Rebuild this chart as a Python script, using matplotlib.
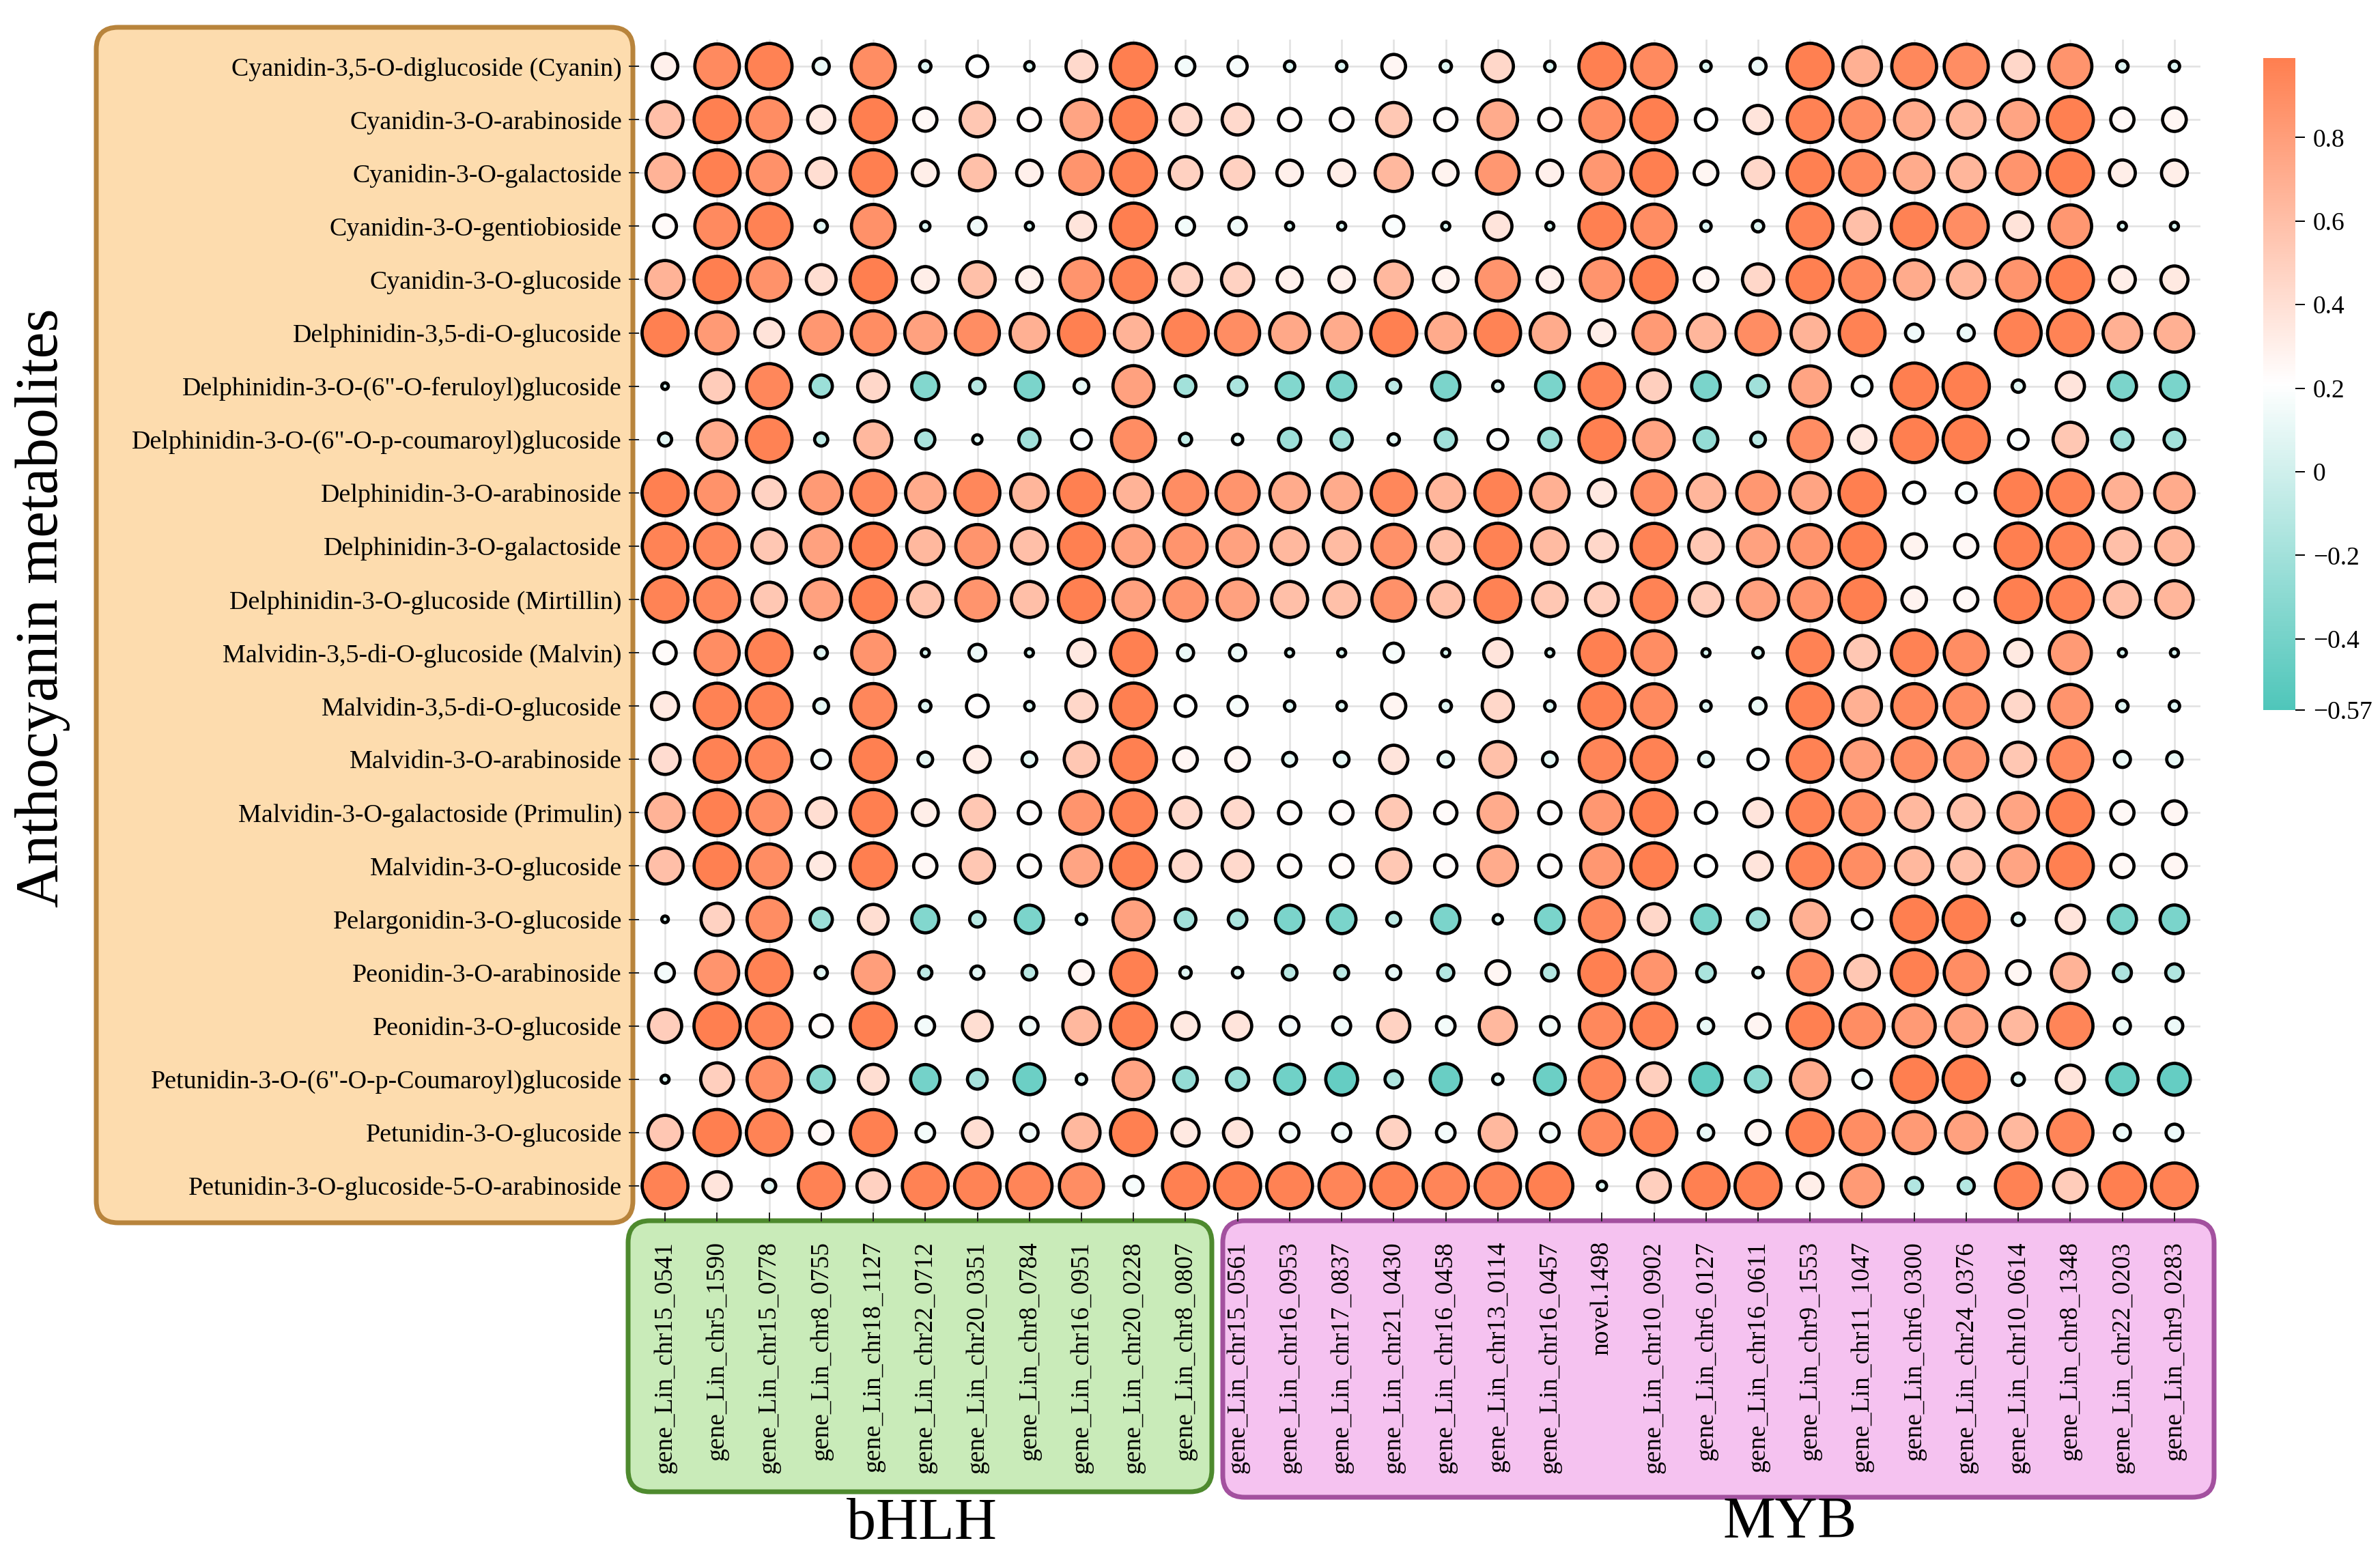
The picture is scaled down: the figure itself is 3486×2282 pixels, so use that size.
import matplotlib
matplotlib.use('Agg')
import matplotlib.pyplot as plt
import numpy as np
from matplotlib.colors import LinearSegmentedColormap, Normalize
from matplotlib.patches import FancyBboxPatch
import matplotlib.cm as cm

plt.rcParams['font.family'] = ['Liberation Serif', 'DejaVu Serif']

# ---------------- data ----------------
metabolites = [
    "Cyanidin-3,5-O-diglucoside (Cyanin)",
    "Cyanidin-3-O-arabinoside",
    "Cyanidin-3-O-galactoside",
    "Cyanidin-3-O-gentiobioside",
    "Cyanidin-3-O-glucoside",
    "Delphinidin-3,5-di-O-glucoside",
    "Delphinidin-3-O-(6\"-O-feruloyl)glucoside",
    "Delphinidin-3-O-(6\"-O-p-coumaroyl)glucoside",
    "Delphinidin-3-O-arabinoside",
    "Delphinidin-3-O-galactoside",
    "Delphinidin-3-O-glucoside (Mirtillin)",
    "Malvidin-3,5-di-O-glucoside (Malvin)",
    "Malvidin-3,5-di-O-glucoside",
    "Malvidin-3-O-arabinoside",
    "Malvidin-3-O-galactoside (Primulin)",
    "Malvidin-3-O-glucoside",
    "Pelargonidin-3-O-glucoside",
    "Peonidin-3-O-arabinoside",
    "Peonidin-3-O-glucoside",
    "Petunidin-3-O-(6\"-O-p-Coumaroyl)glucoside",
    "Petunidin-3-O-glucoside",
    "Petunidin-3-O-glucoside-5-O-arabinoside",
]

bhlh_genes = ["gene_Lin_chr15_0541", "gene_Lin_chr5_1590", "gene_Lin_chr15_0778",
              "gene_Lin_chr8_0755", "gene_Lin_chr18_1127", "gene_Lin_chr22_0712",
              "gene_Lin_chr20_0351", "gene_Lin_chr8_0784", "gene_Lin_chr16_0951",
              "gene_Lin_chr20_0228", "gene_Lin_chr8_0807"]

myb_genes = ["gene_Lin_chr15_0561", "gene_Lin_chr16_0953", "gene_Lin_chr17_0837",
             "gene_Lin_chr21_0430", "gene_Lin_chr16_0458", "gene_Lin_chr13_0114",
             "gene_Lin_chr16_0457", "novel.1498", "gene_Lin_chr10_0902",
             "gene_Lin_chr6_0127", "gene_Lin_chr16_0611", "gene_Lin_chr9_1553",
             "gene_Lin_chr11_1047", "gene_Lin_chr6_0300", "gene_Lin_chr24_0376",
             "gene_Lin_chr10_0614", "gene_Lin_chr8_1348", "gene_Lin_chr22_0203",
             "gene_Lin_chr9_0283"]

# correlation of each metabolite (row) with bHLH genes
bhlh_r = [
    [0.30, 0.92, 0.97, 0.12, 0.90, 0.06, 0.20, 0.04, 0.44, 0.99, 0.16],
    [0.60, 0.98, 0.90, 0.34, 0.99, 0.25, 0.55, 0.23, 0.76, 0.98, 0.44],
    [0.67, 0.98, 0.88, 0.41, 0.99, 0.31, 0.59, 0.30, 0.86, 0.97, 0.49],
    [0.24, 0.92, 0.97, 0.07, 0.88, 0.04, 0.14, 0.03, 0.37, 0.99, 0.15],
    [0.67, 0.99, 0.87, 0.41, 0.99, 0.31, 0.59, 0.30, 0.86, 0.97, 0.48],
    [0.98, 0.82, 0.38, 0.84, 0.90, 0.78, 0.90, 0.69, 0.98, 0.67, 0.96],
    [0.02, 0.52, 0.94, -0.23, 0.45, -0.34, -0.11, -0.37, 0.10, 0.78, -0.20],
    [0.08, 0.72, 0.97, -0.08, 0.64, -0.17, 0.04, -0.21, 0.18, 0.90, -0.07],
    [0.98, 0.87, 0.48, 0.82, 0.94, 0.72, 0.94, 0.65, 0.98, 0.67, 0.90],
    [0.96, 0.94, 0.55, 0.78, 0.98, 0.64, 0.86, 0.60, 0.98, 0.78, 0.86],
    [0.96, 0.94, 0.55, 0.78, 0.98, 0.57, 0.86, 0.60, 0.98, 0.78, 0.86],
    [0.23, 0.90, 0.97, 0.07, 0.86, 0.03, 0.13, 0.03, 0.34, 0.98, 0.12],
    [0.34, 0.97, 0.97, 0.10, 0.94, 0.06, 0.22, 0.04, 0.45, 0.98, 0.20],
    [0.42, 0.97, 0.95, 0.16, 0.98, 0.10, 0.31, 0.10, 0.55, 0.98, 0.26],
    [0.67, 0.98, 0.90, 0.41, 0.99, 0.31, 0.55, 0.23, 0.86, 0.97, 0.44],
    [0.60, 0.98, 0.90, 0.34, 0.99, 0.25, 0.55, 0.23, 0.76, 0.98, 0.44],
    [0.02, 0.48, 0.90, -0.23, 0.41, -0.34, -0.11, -0.37, 0.05, 0.78, -0.20],
    [0.16, 0.86, 0.97, 0.07, 0.80, -0.08, 0.08, -0.10, 0.26, 0.98, 0.06],
    [0.51, 0.99, 0.96, 0.23, 0.98, 0.16, 0.41, 0.14, 0.64, 0.98, 0.34],
    [0.03, 0.50, 0.90, -0.32, 0.41, -0.40, -0.18, -0.44, 0.05, 0.76, -0.26],
    [0.55, 0.99, 0.96, 0.25, 0.98, 0.16, 0.41, 0.14, 0.64, 0.98, 0.34],
    [0.97, 0.37, 0.08, 0.97, 0.49, 0.97, 0.96, 0.95, 0.90, 0.17, 0.98],
]

# correlation of each metabolite (row) with MYB genes
myb_r = [
    [0.17, 0.05, 0.05, 0.26, 0.06, 0.45, 0.05, 0.98, 0.92, 0.05, 0.12, 0.98, 0.69, 0.93, 0.90, 0.45, 0.86, 0.06, 0.05],
    [0.44, 0.23, 0.24, 0.54, 0.23, 0.72, 0.23, 0.90, 0.99, 0.21, 0.37, 0.97, 0.90, 0.72, 0.65, 0.76, 0.98, 0.25, 0.26],
    [0.49, 0.30, 0.31, 0.64, 0.28, 0.84, 0.30, 0.84, 0.99, 0.26, 0.45, 0.98, 0.93, 0.72, 0.65, 0.86, 0.99, 0.31, 0.31],
    [0.14, 0.03, 0.03, 0.19, 0.03, 0.37, 0.03, 0.98, 0.90, 0.05, 0.06, 0.97, 0.60, 0.97, 0.90, 0.38, 0.84, 0.03, 0.03],
    [0.48, 0.29, 0.30, 0.64, 0.28, 0.86, 0.30, 0.86, 0.99, 0.26, 0.45, 0.98, 0.93, 0.72, 0.65, 0.86, 0.99, 0.31, 0.34],
    [0.90, 0.74, 0.72, 0.98, 0.72, 0.96, 0.72, 0.31, 0.82, 0.65, 0.90, 0.67, 0.97, 0.14, 0.12, 0.97, 0.96, 0.69, 0.69],
    [-0.16, -0.34, -0.37, -0.09, -0.37, 0.05, -0.38, 0.96, 0.50, -0.38, -0.21, 0.76, 0.18, 0.99, 0.99, 0.07, 0.37, -0.37, -0.38],
    [0.05, -0.23, -0.21, 0.06, -0.21, 0.18, -0.23, 0.98, 0.76, -0.26, -0.10, 0.90, 0.35, 0.99, 0.99, 0.18, 0.55, -0.21, -0.20],
    [0.86, 0.72, 0.72, 0.94, 0.65, 0.97, 0.69, 0.34, 0.90, 0.65, 0.84, 0.76, 0.99, 0.21, 0.18, 0.99, 0.97, 0.69, 0.72],
    [0.78, 0.64, 0.62, 0.88, 0.59, 0.97, 0.62, 0.45, 0.96, 0.55, 0.78, 0.86, 0.99, 0.28, 0.25, 0.99, 0.97, 0.60, 0.65],
    [0.78, 0.60, 0.59, 0.88, 0.59, 0.97, 0.55, 0.50, 0.96, 0.52, 0.78, 0.86, 0.99, 0.28, 0.25, 0.99, 0.97, 0.60, 0.65],
    [0.12, 0.03, 0.03, 0.17, 0.03, 0.37, 0.03, 0.98, 0.90, 0.03, 0.05, 0.97, 0.55, 0.97, 0.90, 0.34, 0.82, 0.03, 0.03],
    [0.17, 0.05, 0.04, 0.27, 0.06, 0.45, 0.05, 0.98, 0.92, 0.05, 0.12, 0.98, 0.69, 0.93, 0.90, 0.45, 0.86, 0.06, 0.05],
    [0.26, 0.09, 0.10, 0.37, 0.11, 0.59, 0.10, 0.95, 0.97, 0.10, 0.19, 0.97, 0.80, 0.90, 0.86, 0.55, 0.93, 0.12, 0.11],
    [0.44, 0.23, 0.24, 0.54, 0.23, 0.72, 0.23, 0.84, 0.99, 0.21, 0.37, 0.97, 0.90, 0.64, 0.59, 0.76, 0.98, 0.25, 0.26],
    [0.44, 0.23, 0.24, 0.54, 0.23, 0.72, 0.23, 0.84, 0.99, 0.21, 0.37, 0.97, 0.90, 0.64, 0.59, 0.76, 0.98, 0.25, 0.26],
    [-0.16, -0.37, -0.38, -0.09, -0.37, 0.04, -0.38, 0.93, 0.45, -0.38, -0.21, 0.69, 0.18, 0.99, 0.99, 0.07, 0.37, -0.37, -0.38],
    [0.05, -0.10, -0.09, 0.09, -0.12, 0.26, -0.13, 0.98, 0.86, -0.16, 0.05, 0.92, 0.55, 0.98, 0.90, 0.26, 0.67, -0.15, -0.14],
    [0.37, 0.16, 0.15, 0.48, 0.16, 0.64, 0.16, 0.93, 0.97, 0.11, 0.27, 0.98, 0.90, 0.82, 0.78, 0.64, 0.95, 0.12, 0.13],
    [-0.23, -0.42, -0.47, -0.14, -0.45, 0.05, -0.44, 0.95, 0.50, -0.48, -0.30, 0.72, 0.16, 0.99, 0.99, 0.07, 0.37, -0.45, -0.47],
    [0.37, 0.16, 0.15, 0.48, 0.16, 0.64, 0.16, 0.93, 0.97, 0.11, 0.27, 0.98, 0.90, 0.82, 0.78, 0.64, 0.95, 0.12, 0.13],
    [0.98, 0.97, 0.95, 0.97, 0.95, 0.95, 0.98, 0.04, 0.50, 0.98, 0.98, 0.31, 0.82, -0.13, -0.12, 0.97, 0.52, 0.99, 0.97],
]

cbar_ticks = [-0.57, -0.4, -0.2, 0, 0.2, 0.4, 0.6, 0.8]
cbar_labels = ["\u22120.57", "\u22120.4", "\u22120.2", "0", "0.2", "0.4", "0.6", "0.8"]
vmin, vmax = -0.57, 0.99

# ---------------- figure ----------------
W, H = 3487, 2282
DPI = 200
fig = plt.figure(figsize=(W / DPI, H / DPI), dpi=DPI)
PT = 72.0 / DPI  # points per pixel
SERIF = ['Liberation Serif', 'DejaVu Serif']

# background layer in pixel coordinates for rounded boxes
bg = fig.add_axes([0, 0, 1, 1], zorder=-5)
bg.set_xlim(0, W)
bg.set_ylim(H, 0)
bg.axis('off')

def rbox(x0, y0, x1, y1, fc, ec, lw_px, r=32):
    p = FancyBboxPatch((x0, y0), x1 - x0, y1 - y0,
                       boxstyle="round,pad=0,rounding_size=%d" % r,
                       fc=fc, ec=ec, lw=lw_px * PT)
    bg.add_patch(p)

rbox(141, 40, 927, 1791, '#FDDCAE', '#B8843C', 7)
rbox(920, 1788, 1775, 2185, '#C9EBB9', '#4E8A2E', 7)
rbox(1791, 1788, 3243, 2193, '#F5C2F0', '#A3519F', 7)

# main axes
ax_l, ax_r, ax_t, ax_b = 936, 3223, 58, 1776
ax = fig.add_axes([ax_l / W, 1 - ax_b / H, (ax_r - ax_l) / W, (ax_b - ax_t) / H])
ax.set_facecolor('none')

genes = bhlh_genes + myb_genes
vals = np.hstack([np.array(bhlh_r), np.array(myb_r)])
nrow, ncol = vals.shape
xx, yy = np.meshgrid(np.arange(ncol), np.arange(nrow))

cmap = LinearSegmentedColormap.from_list('tw', ['#4FC6BA', '#FFFFFF', '#FF7F50'])
norm = Normalize(vmin=vmin, vmax=vmax)

D_px = 68.0
sizes = (D_px * PT) ** 2 * np.abs(vals.ravel())
ax.scatter(xx.ravel(), yy.ravel(), s=sizes, c=vals.ravel(), cmap=cmap, norm=norm,
           edgecolors='black', linewidths=4.7 * PT, zorder=3)

ax.set_xlim(-0.5, ncol - 0.5)
ax.set_ylim(nrow - 0.5, -0.5)
ax.set_xticks(np.arange(ncol))
ax.set_yticks(np.arange(nrow))
ax.set_xticklabels(genes, rotation=90, fontsize=13.5, family=SERIF)
ax.set_yticklabels(metabolites, fontsize=13.7, family=SERIF)
ax.grid(True, color='#E2E2E2', lw=2.6 * PT, zorder=0)
ax.set_axisbelow(True)
for s in ax.spines.values():
    s.set_visible(False)
ax.tick_params(axis='y', length=15 * PT, width=2 * PT, pad=10 * PT, color='#222222')
ax.tick_params(axis='x', length=13 * PT, width=2 * PT, pad=29 * PT, color='#222222')

# colorbar
cax = fig.add_axes([3315 / W, 1 - 1040 / H, 47 / W, 955 / H])
sm = cm.ScalarMappable(norm=norm, cmap=cmap)
cb = fig.colorbar(sm, cax=cax, ticks=cbar_ticks)
cb.set_ticklabels(cbar_labels)
cb.outline.set_visible(False)
cax.tick_params(length=14 * PT, width=2 * PT, labelsize=13.5, pad=12 * PT)
for t in cax.get_yticklabels():
    t.set_family(SERIF)

# texts
fig.text(63 / W, 1 - 890 / H, "Anthocyanin metabolites", rotation=90,
         fontsize=31.5, ha='center', va='center', family=SERIF)
fig.text(1350 / W, 1 - 2233 / H, "bHLH", fontsize=31, ha='center', va='center', family=SERIF)
fig.text(2622 / W, 1 - 2231 / H, "MYB", fontsize=31, ha='center', va='center', family=SERIF)

fig.savefig('out.png', dpi=DPI)
